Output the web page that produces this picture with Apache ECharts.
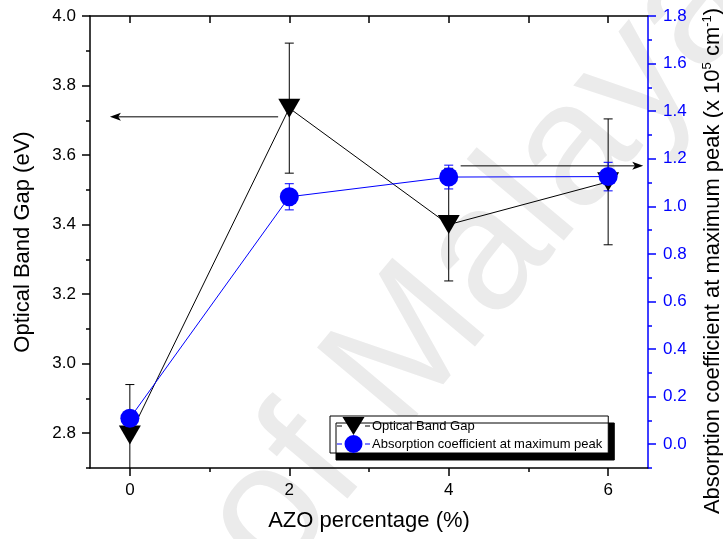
<!DOCTYPE html>
<html>
<head>
<meta charset="utf-8">
<script src="https://cdn.jsdelivr.net/npm/echarts@6/dist/echarts.min.js"></script>
<style>
html,body{margin:0;padding:0;background:#fff;}
#chart{width:723px;height:539px;}
</style>
</head>
<body>
<div id="chart"></div>
<script>
// ---- data ----
const azo = [0, 2, 4, 6];
const bandGap = [2.795, 3.735, 3.40, 3.523];
const bandGapErr = [0.145, 0.187, 0.162, 0.181];
const absorption = [0.109, 1.04, 1.123, 1.125];
const absorptionErr = [0.02, 0.055, 0.05, 0.06];
const xTicks = [0, 2, 4, 6];
const xMinorTicks = [1, 3, 5];
const leftTicks = [2.8, 3.0, 3.2, 3.4, 3.6, 3.8, 4.0];
const leftMinorTicks = [2.7, 2.9, 3.1, 3.3, 3.5, 3.7, 3.9];
const rightTicks = [0.0, 0.2, 0.4, 0.6, 0.8, 1.0, 1.2, 1.4, 1.6, 1.8];
const rightMinorTicks = [-0.1, 0.1, 0.3, 0.5, 0.7, 0.9, 1.1, 1.3, 1.5, 1.7];
// arrows: [x from, y, x to]
const arrowLeft = [1.86, 3.71, -0.25];
const arrowRight = [4.15, 1.17, 6.44];

const FONT = 'Arial, "Liberation Sans", sans-serif';
const chart = echarts.init(document.getElementById('chart'), null, {renderer: 'canvas'});

const bgErrData = azo.map((x, i) => [x, bandGap[i] - bandGapErr[i], bandGap[i] + bandGapErr[i]]);
const abErrData = azo.map((x, i) => [x, absorption[i] - absorptionErr[i], absorption[i] + absorptionErr[i]]);

function errRender(color) {
  return function (params, api) {
    const x = api.value(0);
    const lo = api.coord([x, api.value(1)]);
    const hi = api.coord([x, api.value(2)]);
    const cw = 4.5;
    const style = {stroke: color, lineWidth: 1};
    return {
      type: 'group',
      children: [
        {type: 'line', shape: {x1: lo[0], y1: lo[1], x2: hi[0], y2: hi[1]}, style},
        {type: 'line', shape: {x1: lo[0] - cw, y1: lo[1], x2: lo[0] + cw, y2: lo[1]}, style},
        {type: 'line', shape: {x1: hi[0] - cw, y1: hi[1], x2: hi[0] + cw, y2: hi[1]}, style}
      ]
    };
  };
}

function arrowRender(params, api) {
  const p1 = api.coord([api.value(0), api.value(1)]);
  const p2 = api.coord([api.value(2), api.value(1)]);
  const dir = p2[0] > p1[0] ? 1 : -1;
  const L = 11, W = 4;
  return {
    type: 'group',
    children: [
      {type: 'line', shape: {x1: p1[0], y1: p1[1], x2: p2[0] - dir * L * 0.6, y2: p2[1]}, style: {stroke: '#000', lineWidth: 1}},
      {type: 'polygon', shape: {points: [[p2[0], p2[1]], [p2[0] - dir * L, p2[1] - W], [p2[0] - dir * L * 0.75, p2[1]], [p2[0] - dir * L, p2[1] + W]]}, style: {fill: '#000'}}
    ]
  };
}

const fmt1 = v => Number(v).toFixed(1);
const noZeroLine = (color, show) => ({show: show !== false, onZero: false, lineStyle: {color: color, width: 1.5}});

const STUBS = 'M0,8.5 L5,8.5 L5,9.5 L0,9.5 Z M28,8.5 L33,8.5 L33,9.5 L28,9.5 Z';
const ICON_TRI = 'path://' + STUBS + ' M5.5,0 L27.5,0 L16.5,18 Z';
const ICON_CIR = 'path://' + STUBS + ' M7.5,9 A9,9 0 1 1 25.5,9 A9,9 0 1 1 7.5,9 Z';

const option = {
  animation: false,
  backgroundColor: '#fff',
  textStyle: {fontFamily: FONT},
  grid: {left: 90, right: 75, top: 16, bottom: 71, containLabel: false, outerBoundsMode: 'none'},
  graphic: [{
    type: 'text',
    z: -10,
    silent: true,
    x: 305, y: 610,
    rotation: 50 * Math.PI / 180,
    style: {text: 'of Malaya', fontSize: 175, fontFamily: FONT, fill: '#ebebeb', textVerticalAlign: 'bottom'}
  }],
  legend: {
    orient: 'vertical',
    left: 330, top: 416,
    padding: [1, 6, 0, 7],
    itemGap: 0,
    itemWidth: 33,
    itemHeight: 18,
    symbolKeepAspect: false,
    backgroundColor: '#fff',
    borderColor: '#000',
    borderWidth: 1,
    borderRadius: 0,
    shadowColor: '#000',
    shadowBlur: 0,
    shadowOffsetX: 6,
    shadowOffsetY: 7,
    z: 10,
    textStyle: {fontSize: 13, color: '#000', fontFamily: FONT, padding: [0, 0, 0, -3]},
    data: [
      {name: 'Optical Band Gap', icon: ICON_TRI},
      {name: 'Absorption coefficient at maximum peak', icon: ICON_CIR}
    ]
  },
  xAxis: [{
    type: 'value', position: 'bottom', min: -0.5, max: 6.5,
    name: 'AZO percentage (%)', nameLocation: 'middle', nameGap: 42,
    nameTextStyle: {fontSize: 22, color: '#000', fontFamily: FONT},
    axisLine: noZeroLine('#000'),
    axisTick: {customValues: xTicks, length: 8, lineStyle: {color: '#000', width: 1.5}},
    axisLabel: {customValues: xTicks, fontSize: 17, color: '#000', margin: 14, fontFamily: FONT},
    splitLine: {show: false}
  }, {
    type: 'value', position: 'bottom', min: -0.5, max: 6.5,
    axisLine: noZeroLine('#000', false),
    axisTick: {customValues: xMinorTicks, length: 4, lineStyle: {color: '#000', width: 1.5}},
    axisLabel: {show: false}, splitLine: {show: false}
  }, {
    type: 'value', position: 'top', min: -0.5, max: 6.5,
    axisLine: noZeroLine('#000'),
    axisTick: {customValues: [0, 1, 2, 3, 4, 5, 6], inside: true, length: 7, lineStyle: {color: '#000', width: 1.5}},
    axisLabel: {show: false}, splitLine: {show: false}
  }],
  yAxis: [{
    type: 'value', position: 'left', min: 2.7, max: 4.0,
    name: 'Optical Band Gap (eV)', nameLocation: 'middle', nameGap: 56, nameRotate: 90,
    nameTextStyle: {fontSize: 22, color: '#000', fontFamily: FONT},
    axisLine: noZeroLine('#000'),
    axisTick: {show: true, customValues: leftTicks, length: 8, lineStyle: {color: '#000', width: 1.5}},
    axisLabel: {customValues: leftTicks, formatter: fmt1, fontSize: 17, color: '#000', margin: 14, fontFamily: FONT},
    splitLine: {show: false}
  }, {
    type: 'value', position: 'right', min: -0.1, max: 1.8,
    name: '{n|Absorption coefficient at maximum peak (x 10}{s|5}{n| cm}{s|-1}{n|)}', nameLocation: 'middle', nameGap: 53, nameRotate: 90,
    nameTextStyle: {fontSize: 22, color: '#000', fontFamily: FONT, padding: [0, 38, 0, 0],
      rich: {n: {fontSize: 22, fontFamily: FONT, color: '#000'}, s: {fontSize: 13, fontFamily: FONT, color: '#000', verticalAlign: 'top', padding: [0, 0, 10, 0]}}},
    axisLine: noZeroLine('#0000ff'),
    axisTick: {show: true, customValues: rightTicks, length: 8, lineStyle: {color: '#0000ff', width: 1.5}},
    axisLabel: {customValues: rightTicks, formatter: fmt1, fontSize: 17, color: '#0000ff', margin: 15, fontFamily: FONT},
    splitLine: {show: false}
  }, {
    type: 'value', position: 'left', min: 2.7, max: 4.0,
    axisLine: noZeroLine('#000', false),
    axisTick: {show: true, customValues: leftMinorTicks, length: 4, lineStyle: {color: '#000', width: 1.5}},
    axisLabel: {show: false}, splitLine: {show: false}
  }, {
    type: 'value', position: 'right', min: -0.1, max: 1.8,
    axisLine: noZeroLine('#0000ff', false),
    axisTick: {show: true, customValues: rightMinorTicks, length: 4, lineStyle: {color: '#0000ff', width: 1.5}},
    axisLabel: {show: false}, splitLine: {show: false}
  }],
  series: [
    {
      type: 'custom', name: 'arrowL', xAxisIndex: 0, yAxisIndex: 0, z: 1,
      renderItem: arrowRender, data: [arrowLeft], silent: true
    },
    {
      type: 'custom', name: 'arrowR', xAxisIndex: 0, yAxisIndex: 1, z: 1,
      renderItem: arrowRender, data: [arrowRight], silent: true
    },
    {
      type: 'custom', name: 'bgErr', xAxisIndex: 0, yAxisIndex: 0, z: 2, clip: true,
      renderItem: errRender('#000'), data: bgErrData, silent: true
    },
    {
      type: 'custom', name: 'abErr', xAxisIndex: 0, yAxisIndex: 1, z: 2, clip: true,
      renderItem: errRender('#0000ff'), data: abErrData, silent: true
    },
    {
      type: 'line', name: 'Optical Band Gap', xAxisIndex: 0, yAxisIndex: 0, z: 3,
      data: azo.map((x, i) => [x, bandGap[i]]),
      symbol: 'path://M0,0 L22,0 L11,19 Z', symbolSize: [22, 19], symbolKeepAspect: false,
      lineStyle: {color: '#000', width: 1}, itemStyle: {color: '#000'}
    },
    {
      type: 'line', name: 'Absorption coefficient at maximum peak', xAxisIndex: 0, yAxisIndex: 1, z: 4,
      data: azo.map((x, i) => [x, absorption[i]]),
      symbol: 'circle', symbolSize: 19,
      lineStyle: {color: '#0000ff', width: 1}, itemStyle: {color: '#0000ff'}
    }
  ]
};
chart.setOption(option);
</script>
</body>
</html>
